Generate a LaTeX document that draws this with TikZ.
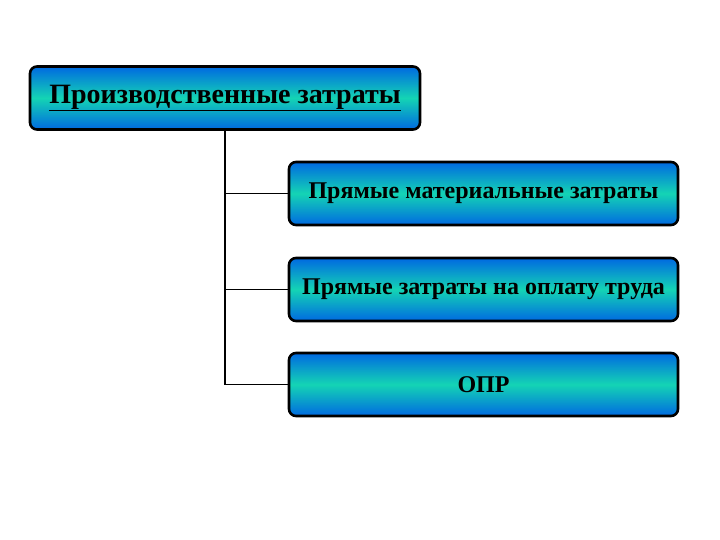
\documentclass[tikz,border=0pt]{standalone}
\usepackage{fontspec}
\setmainfont{Liberation Serif}
\definecolor{boxblue}{RGB}{0,105,225}
\definecolor{boxteal}{RGB}{20,212,180}
\tikzset{
  box/.style={draw=black, line width=2.6pt, rounded corners=7pt,
    top color=boxblue, bottom color=boxblue, middle color=boxteal,
    minimum height=63pt, inner sep=0pt, font=\bfseries\fontsize{24}{28}\selectfont},
  conn/.style={line width=1.8pt, draw=black}
}
\begin{document}
\begin{tikzpicture}[x=1pt,y=1pt]
\useasboundingbox (0,0) rectangle (720,540);
\node[box, minimum width=390pt, font=\bfseries\fontsize{28}{32}\selectfont] (top) at (225,442) {\underline{Производственные затраты}};
\node[box, minimum width=389pt] (c1) at (483.5,346.5) {Прямые материальные затраты};
\node[box, minimum width=389pt] (c2) at (483.5,250.5) {Прямые затраты на оплату труда};
\node[box, minimum width=389pt] (c3) at (483.5,155.5) {ОПР};
\draw[conn] (top.south) |- (c3.west);
\draw[conn] (top.south |- c1.west) -- (c1.west);
\draw[conn] (top.south |- c2.west) -- (c2.west);
\end{tikzpicture}
\end{document}
